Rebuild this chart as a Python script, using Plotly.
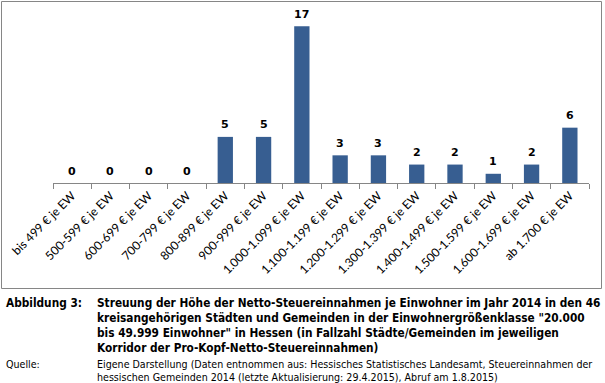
import plotly.graph_objects as go

categories = ["bis 499 € je EW", "500-599 € je EW", "600-699 € je EW", "700-799 € je EW",
              "800-899 € je EW", "900-999 € je EW", "1.000-1.099 € je EW", "1.100-1.199 € je EW",
              "1.200-1.299 € je EW", "1.300-1.399 € je EW", "1.400-1.499 € je EW",
              "1.500-1.599 € je EW", "1.600-1.699 € je EW", "ab 1.700 € je EW"]
counts = [0, 0, 0, 0, 5, 5, 17, 3, 3, 2, 2, 1, 2, 6]

caption_label = "Abbildung 3:"
caption_lines = [
    "Streuung der Höhe der Netto-Steuereinnahmen je Einwohner im Jahr 2014 in den 46",
    "kreisangehörigen Städten und Gemeinden in der Einwohnergrößenklasse \"20.000",
    "bis 49.999 Einwohner\" in Hessen (in Fallzahl Städte/Gemeinden im jeweiligen",
    "Korridor der Pro-Kopf-Netto-Steuereinnahmen)",
]
source_label = "Quelle:"
source_lines = [
    "Eigene Darstellung (Daten entnommen aus: Hessisches Statistisches Landesamt, Steuereinnahmen der",
    "hessischen Gemeinden 2014 (letzte Aktualisierung: 29.4.2015), Abruf am 1.8.2015)",
]

W, H = 605, 383
L, R, T, B = 53, 589, 17, 183  # plot area in pixels


def px(x):
    return (x - L) / (R - L)


def py(y):
    return (B - y) / (B - T)


fig = go.Figure()
fig.add_trace(go.Bar(x=categories, y=counts, marker=dict(color="#375E91", line=dict(width=0)),
                     hoverinfo="x+y"))

annotations = []
for c, v in zip(categories, counts):
    annotations.append(dict(x=c, y=v, xref="x", yref="y", text=f"<b>{v}</b>", showarrow=False,
                            yshift=12, font=dict(family="DejaVu Sans", size=11, color="black")))

cap_font = dict(family="DejaVu Sans Condensed", size=11.75, color="black")
src_font = dict(family="DejaVu Sans Condensed", size=10.6, color="black")
annotations.append(dict(x=px(4), y=py(303), xref="paper", yref="paper", text=f"<b>{caption_label}</b>",
                        showarrow=False, xanchor="left", yanchor="middle", font=cap_font))
for i, line in enumerate(caption_lines):
    annotations.append(dict(x=px(95), y=py(303 + 15 * i), xref="paper", yref="paper",
                            text=f"<b>{line}</b>", showarrow=False, xanchor="left", yanchor="middle",
                            font=cap_font))
annotations.append(dict(x=px(4), y=py(364), xref="paper", yref="paper", text=source_label,
                        showarrow=False, xanchor="left", yanchor="middle", font=src_font))
for i, line in enumerate(source_lines):
    annotations.append(dict(x=px(95), y=py(364 + 13 * i), xref="paper", yref="paper",
                            text=line, showarrow=False, xanchor="left", yanchor="middle",
                            font=src_font))

fig.update_layout(
    width=W, height=H,
    margin=dict(l=L, r=W - R, t=T, b=H - B, pad=0, autoexpand=False),
    paper_bgcolor="white", plot_bgcolor="white",
    bargap=0.6, showlegend=False,
    annotations=annotations,
    shapes=[dict(type="rect", xref="paper", yref="paper", x0=px(1.5), x1=px(601.5), y0=py(288.5), y1=py(1.5),
                 line=dict(color="#868686", width=1), fillcolor="rgba(0,0,0,0)", layer="above")],
    xaxis=dict(type="category", showline=True, linecolor="#868686", linewidth=1,
               ticks="outside", tickson="boundaries", ticklen=5, tickcolor="#868686",
               tickangle=-45, tickfont=dict(family="Lato", size=12, color="black"),
               showgrid=False, zeroline=False, fixedrange=True, automargin=False),
    yaxis=dict(range=[0, 18], visible=False, fixedrange=True),
)

fig.write_html("out.html", config={"displayModeBar": False},
               post_script="document.body.style.margin='0';document.body.style.overflow='hidden';")
